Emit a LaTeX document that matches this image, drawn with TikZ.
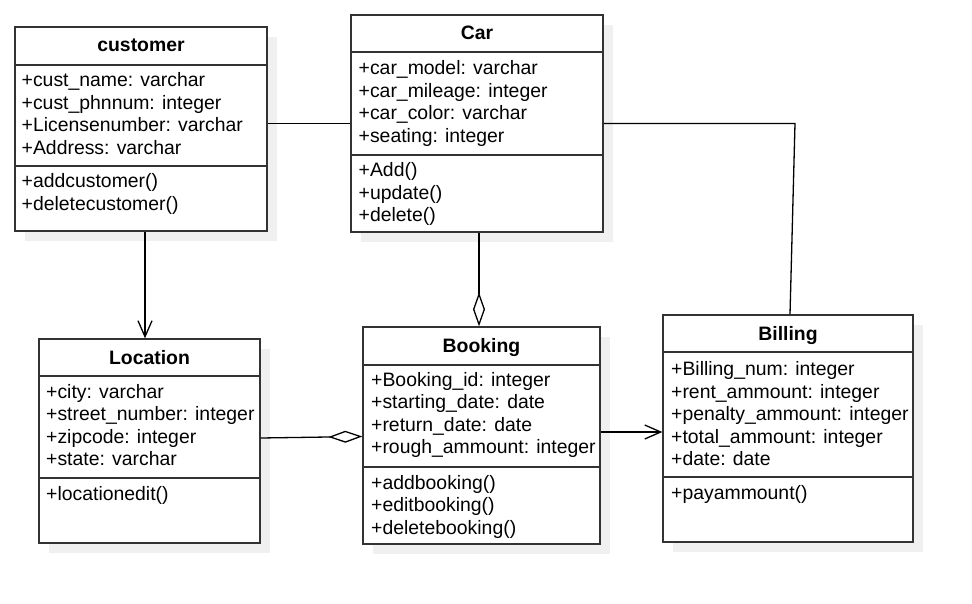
\documentclass[tikz,border=0pt]{standalone}
\usepackage{fontspec}
\setmainfont{Liberation Sans}
\usetikzlibrary{arrows.meta,positioning,shadows}

\begin{document}
\begin{tikzpicture}[x=1pt, y=-1pt,
classbox/.style={draw=black!80, line width=1.3pt, fill=white, drop shadow={shadow xshift=10pt, shadow yshift=-10pt, fill=black!6, opacity=1}},
classname/.style={font=\fontsize{19.4}{22.5}\selectfont\bfseries, inner sep=0pt, anchor=base},
members/.style={font=\fontsize{19.4}{22.5}\selectfont, align=left, anchor=base west, inner sep=0pt},
divider/.style={draw=black!80, line width=1.3pt},
link/.style={line width=1.3pt},
navarrow/.style={link, -{Straight Barb[length=16pt, width=14pt]}},
aggr/.style={link, -{Diamond[open, length=34pt, width=12pt]}}
]
\useasboundingbox (0,0) rectangle (972,604);
% class boxes
\node[classbox, minimum width=252pt, minimum height=204pt] (customer) at (141,129) {};
\node[classbox, minimum width=252pt, minimum height=217pt] (car) at (477,123.5) {};
\node[classbox, minimum width=221pt, minimum height=204pt] (location) at (149.5,441) {};
\node[classbox, minimum width=237pt, minimum height=217pt] (booking) at (481.5,435.5) {};
\node[classbox, minimum width=250pt, minimum height=227pt] (billing) at (788,428.5) {};
% compartments
\draw[divider] (customer.west |- 0,65) -- (customer.east |- 0,65);
\draw[divider] (customer.west |- 0,166) -- (customer.east |- 0,166);
\draw[divider] (car.west |- 0,52) -- (car.east |- 0,52);
\draw[divider] (car.west |- 0,155) -- (car.east |- 0,155);
\draw[divider] (location.west |- 0,376) -- (location.east |- 0,376);
\draw[divider] (location.west |- 0,478) -- (location.east |- 0,478);
\draw[divider] (booking.west |- 0,365) -- (booking.east |- 0,365);
\draw[divider] (booking.west |- 0,467) -- (booking.east |- 0,467);
\draw[divider] (billing.west |- 0,352) -- (billing.east |- 0,352);
\draw[divider] (billing.west |- 0,477) -- (billing.east |- 0,477);
% texts (members sit on the baseline of their last line)
\node[classname] (customer-name) at (141,52) {customer};
\node[members] (customer-attr) at (21.5,154.5) {+cust\_name: varchar\\+cust\_phnnum: integer\\+Licensenumber: varchar\\+Address: varchar};
\node[members] (customer-ops) at (21.5,210.5) {+addcustomer()\\+deletecustomer()};
\node[classname] (car-name) at (477,39.5) {Car};
\node[members] (car-attr) at (358.5,142.5) {+car\_model: varchar\\+car\_mileage: integer\\+car\_color: varchar\\+seating: integer};
\node[members] (car-ops) at (358.5,222) {+Add()\\+update()\\+delete()};
\node[classname] (location-name) at (149.5,364) {Location};
\node[members] (location-attr) at (46,465.5) {+city: varchar\\+street\_number: integer\\+zipcode: integer\\+state: varchar};
\node[members] (location-ops) at (46,500) {+locationedit()};
\node[classname] (booking-name) at (481.5,352) {Booking};
\node[members] (booking-attr) at (371,453.5) {+Booking\_id: integer\\+starting\_date: date\\+return\_date: date\\+rough\_ammount: integer};
\node[members] (booking-ops) at (371,534) {+addbooking()\\+editbooking()\\+deletebooking()};
\node[classname] (billing-name) at (788,340) {Billing};
\node[members] (billing-attr) at (671,465.5) {+Billing\_num: integer\\+rent\_ammount: integer\\+penalty\_ammount: integer\\+total\_ammount: integer\\+date: date};
\node[members] (billing-ops) at (671,499) {+payammount()};
% connectors
\coordinate (bend) at (795,123.5);
\draw[link] (customer.east |- car.west) -- (car.west);
\draw[link] (car.east) -- (bend) -- (billing.north -| 790,0);
\draw[navarrow] (customer.south -| 145,0) -- (location.north -| 145,0);
\draw[aggr] (car.south -| 479,0) -- (booking.north -| 479,0);
\draw[aggr] (location.east |- 0,438) -- (booking.west |- 0,436.5);
\draw[navarrow] (booking.east |- 0,432) -- (billing.west |- 0,432);
\end{tikzpicture}
\end{document}
